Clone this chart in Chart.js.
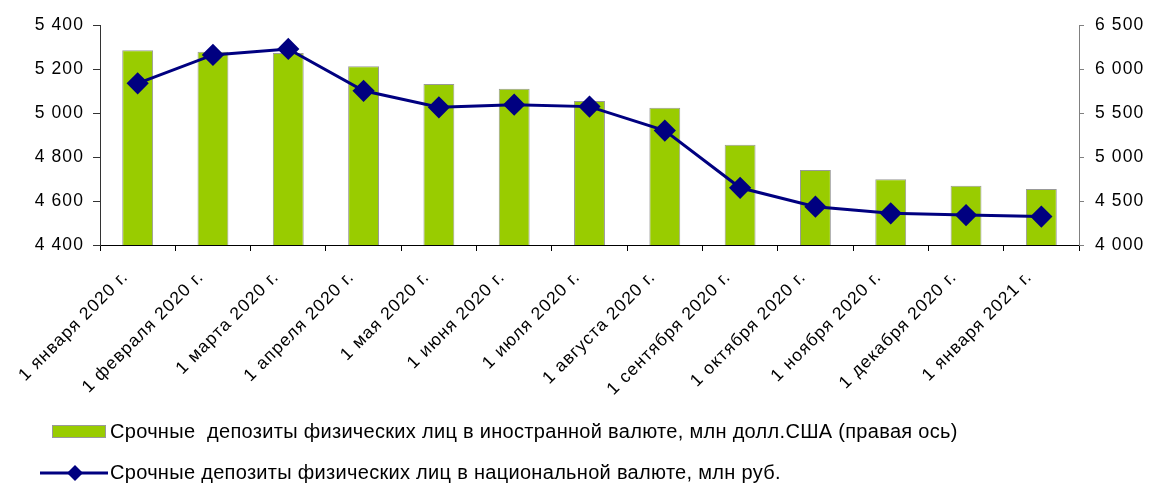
<!DOCTYPE html>
<html>
<head>
<meta charset="utf-8">
<script src="https://cdn.jsdelivr.net/npm/chart.js@4"></script>
<style>
  body { margin: 0; background: #fff; }
  #wrap { position: relative; width: 1149px; height: 483px; }
  #legend { position: absolute; left: 0; top: 0; width: 1149px; height: 483px; pointer-events: none;
            font-family: "Liberation Sans", Arial, sans-serif; font-size: 20px; letter-spacing: 0.3px; color: #000; }
  .box { position: absolute; left: 52px; width: 52px; height: 11px; background: #99CC00; border: 1px solid #999; }
  .txt { position: absolute; left: 110px; white-space: nowrap; line-height: 22px; }
</style>
</head>
<body>
<div id="wrap">
  <canvas id="depositChart" width="1149" height="483"></canvas>
  <div id="legend">
    <div class="box" style="top:425px"></div>
    <div class="txt" style="top:420px">Срочные&nbsp; депозиты физических лиц в иностранной валюте, млн долл.США (правая ось)</div>
    <svg style="position:absolute;left:38px;top:463px" width="72" height="20">
      <line x1="2" y1="10" x2="70" y2="10" stroke="#000080" stroke-width="3"/>
      <polygon points="37,2 45,10 37,18 29,10" fill="#000080"/>
    </svg>
    <div class="txt" style="top:461px">Срочные депозиты физических лиц в национальной валюте, млн руб.</div>
  </div>
</div>
<script>
const months = [
    '1 января 2020 г.', '1 февраля 2020 г.', '1 марта 2020 г.', '1 апреля 2020 г.',
    '1 мая 2020 г.', '1 июня 2020 г.', '1 июля 2020 г.', '1 августа 2020 г.',
    '1 сентября 2020 г.', '1 октября 2020 г.', '1 ноября 2020 г.', '1 декабря 2020 г.',
    '1 января 2021 г.'
];

// bars, right axis (mln USD)
const foreignDeposits = [6212, 6197, 6182, 6031, 5830, 5776, 5636, 5560, 5140, 4852, 4746, 4674, 4636];
// line, left axis (mln rub)
const nationalDeposits = [5135, 5264, 5291, 5101, 5026, 5038, 5029, 4920, 4660, 4574, 4544, 4536, 4529];

const leftTicks = [4400, 5400, 200];
const rightTicks = [4000, 6500, 500];

const fmt = v => String(v).replace(/\B(?=(\d{3})+(?!\d))/g, ' ');
const font = { family: '"Liberation Sans", Arial, sans-serif', size: 17.5 };

// the original labels are drawn a bit wider than plain Arial
const wideText = {
    id: 'wideText',
    beforeInit: c => { c.ctx.letterSpacing = '1.1px'; },
    beforeUpdate: c => { c.ctx.letterSpacing = '1.1px'; },
    beforeDraw: c => { c.ctx.letterSpacing = '1.1px'; }
};

const ctx = document.getElementById('depositChart').getContext('2d');

new Chart(ctx, {
    data: {
        labels: months,
        datasets: [
            {
                type: 'line',
                label: 'Срочные депозиты физических лиц в национальной валюте, млн руб.',
                data: nationalDeposits,
                yAxisID: 'y',
                borderColor: '#000080',
                backgroundColor: '#000080',
                borderWidth: 3,
                pointStyle: 'rectRot',
                pointRadius: 9,
                pointHoverRadius: 9,
                tension: 0,
                order: 1
            },
            {
                type: 'bar',
                label: 'Срочные  депозиты физических лиц в иностранной валюте, млн долл.США (правая ось)',
                data: foreignDeposits,
                yAxisID: 'y1',
                backgroundColor: '#99CC00',
                borderColor: '#999999',
                borderWidth: 1,
                borderSkipped: 'bottom',
                barPercentage: 0.41,
                categoryPercentage: 1,
                order: 2
            }
        ]
    },
    options: {
        responsive: false,
        animation: false,
        layout: { padding: { top: 25, left: 0, right: 0, bottom: 0 } },
        plugins: { legend: { display: false }, tooltip: { enabled: false } },
        scales: {
            x: {
                offset: true,
                grid: { display: true, drawOnChartArea: false, offset: true, tickLength: 6, color: '#000' },
                border: { color: '#000', width: 1 },
                ticks: { color: '#000', font: font, minRotation: 45, maxRotation: 45, padding: 16, labelOffset: -12, autoSkip: false },
                afterFit: s => { s.height = 238; }
            },
            y: {
                position: 'left',
                min: leftTicks[0], max: leftTicks[1],
                grid: { drawOnChartArea: false, tickLength: 7, color: '#333' },
                border: { color: '#333' },
                ticks: { stepSize: leftTicks[2], color: '#000', font: font, padding: 9, callback: v => fmt(v) },
                afterFit: s => { s.width = 100; }
            },
            y1: {
                position: 'right',
                min: rightTicks[0], max: rightTicks[1],
                grid: { drawOnChartArea: false, tickLength: 5, color: '#808080' },
                border: { color: '#808080' },
                ticks: { stepSize: rightTicks[2], color: '#000', font: font, padding: 11, callback: v => fmt(v) },
                afterFit: s => { s.width = 70; }
            }
        }
    },
    plugins: [wideText]
});
</script>
</body>
</html>
